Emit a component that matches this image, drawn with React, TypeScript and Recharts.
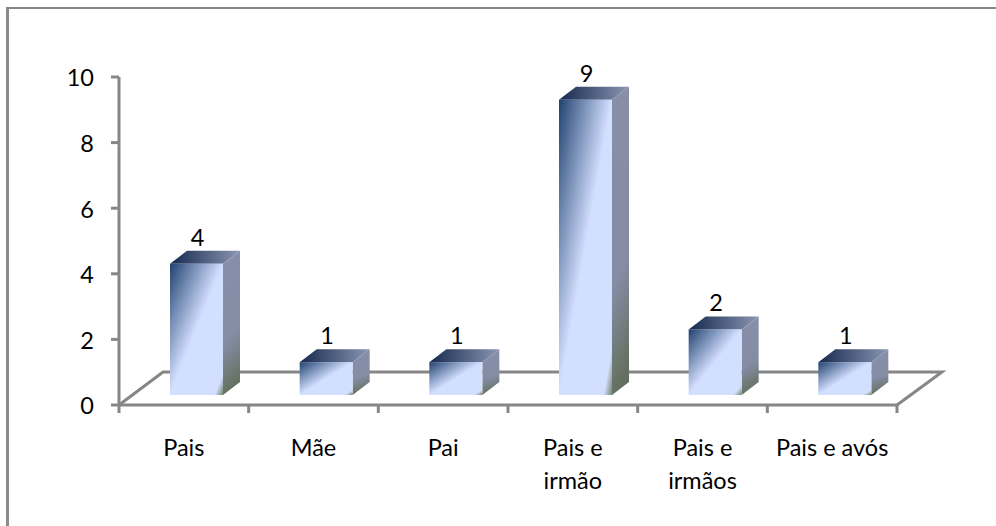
import React from 'react';
import { BarChart, Bar, XAxis, YAxis, LabelList, Customized } from 'recharts';

const categories = ['Pais', 'Mãe', 'Pai', 'Pais e\nirmão', 'Pais e\nirmãos', 'Pais e avós'];
const values = [4, 1, 1, 9, 2, 1];
const yTicks = [0, 2, 4, 6, 8, 10];
const data = categories.map((name, i) => ({ name, value: values[i] }));

const W = 996;
const H = 526;
const LEFT = 119;
const RIGHT = 897;
const TOP = 77;
const BOTTOM = 405;
const BAND = (RIGHT - LEFT) / categories.length;
const AXIS = '#868686';
const FONT = 'Lato, Carlito, "Open Sans", sans-serif';
const FS = 23.5;
const STROKE = 3;
// 3D projection of the bars and floor
const SHIFT_X = 13;
const SHIFT_Y = -10;
const DEPTH_X = 17;
const DEPTH_Y = -13;
const FLOOR_X = 44;
const FLOOR_Y = -33;

const Bar3D = (props: any) => {
  const { x, y, width, height } = props;
  const l = x + SHIFT_X;
  const r = l + width;
  const t = y + SHIFT_Y;
  const b = t + height;
  return (
    <g>
      <polygon
        points={`${l},${t} ${r},${t} ${r + DEPTH_X},${t + DEPTH_Y} ${l + DEPTH_X},${t + DEPTH_Y}`}
        fill="url(#topFace)"
      />
      <polygon
        points={`${r},${t} ${r + DEPTH_X},${t + DEPTH_Y} ${r + DEPTH_X},${b + DEPTH_Y} ${r},${b}`}
        fill="url(#sideFace)"
      />
      <rect x={l} y={t} width={width} height={height} fill="url(#frontFace)" />
    </g>
  );
};

const Decor = () => (
  <g>
    <defs>
      <linearGradient id="frontFace" x1="0" y1="0" x2="1" y2="1">
        <stop offset="0" stopColor="#21426f" />
        <stop offset="0.5" stopColor="#d3dfff" />
        <stop offset="0.92" stopColor="#d3dfff" />
        <stop offset="1" stopColor="#74836f" />
      </linearGradient>
      <linearGradient id="topFace" x1="0" y1="0" x2="1" y2="0">
        <stop offset="0" stopColor="#16294f" />
        <stop offset="1" stopColor="#8a96b2" />
      </linearGradient>
      <linearGradient id="sideFace" x1="0" y1="0" x2="0.12" y2="1">
        <stop offset="0" stopColor="#878fa9" />
        <stop offset="0.65" stopColor="#858da5" />
        <stop offset="1" stopColor="#64705f" />
      </linearGradient>
    </defs>
    <line x1={7.5} y1={7} x2={7.5} y2={H} stroke="#8c8c8c" strokeWidth={3} />
    <line x1={6} y1={8} x2={W} y2={8} stroke={AXIS} strokeWidth={2} />
    <polyline
      points={`${LEFT},${BOTTOM} ${LEFT + FLOOR_X},${BOTTOM + FLOOR_Y} ${RIGHT + FLOOR_X + 1},${BOTTOM + FLOOR_Y} ${RIGHT},${BOTTOM}`}
      fill="none"
      stroke={AXIS}
      strokeWidth={STROKE}
    />
  </g>
);

const CategoryTick = (props: any) => {
  const { x, payload, index } = props;
  const lines = String(payload.value).split('\n');
  const axisY = BOTTOM;
  return (
    <g>
      <line x1={x - BAND / 2} y1={axisY} x2={x - BAND / 2} y2={axisY + 8} stroke={AXIS} strokeWidth={STROKE} />
      {index === categories.length - 1 && (
        <line x1={x + BAND / 2} y1={axisY} x2={x + BAND / 2} y2={axisY + 8} stroke={AXIS} strokeWidth={STROKE} />
      )}
      <text x={x} textAnchor="middle" fontFamily={FONT} fontSize={FS} fill="#000">
        {lines.map((line, i) => (
          <tspan key={i} x={x} y={axisY + 51 + i * 33}>
            {line}
          </tspan>
        ))}
      </text>
    </g>
  );
};

const ValueLabel = (props: any) => {
  const { x, y, width, value } = props;
  return (
    <text
      x={x + width / 2 + SHIFT_X + 1}
      y={y + SHIFT_Y + DEPTH_Y - 5}
      textAnchor="middle"
      fontFamily={FONT}
      fontSize={FS}
      fill="#000"
    >
      {value}
    </text>
  );
};

export default function App() {
  return (
    <div style={{ position: 'absolute', left: 0, top: 0, width: W, height: H, overflow: 'hidden' }}>
      <BarChart
        width={W}
        height={H}
        data={data}
        margin={{ top: TOP, left: 0, right: W - RIGHT, bottom: 0 }}
        style={{ background: '#fff' }}
      >
        <Customized component={Decor} />
        <XAxis
          dataKey="name"
          interval={0}
          axisLine={{ stroke: AXIS, strokeWidth: STROKE }}
          tickLine={false}
          tick={<CategoryTick />}
          height={H - BOTTOM}
        />
        <YAxis
          type="number"
          domain={[0, 10]}
          ticks={yTicks}
          interval={0}
          width={LEFT}
          axisLine={{ stroke: AXIS, strokeWidth: STROKE }}
          tickLine={{ stroke: AXIS, strokeWidth: STROKE }}
          tickSize={8}
          tickMargin={17}
          tick={{ fontFamily: FONT, fontSize: FS, fill: '#000', dy: 1 }}
        />
        <Bar dataKey="value" barSize={53} isAnimationActive={false} shape={<Bar3D />}>
          <LabelList dataKey="value" content={<ValueLabel />} />
        </Bar>
      </BarChart>
    </div>
  );
}
